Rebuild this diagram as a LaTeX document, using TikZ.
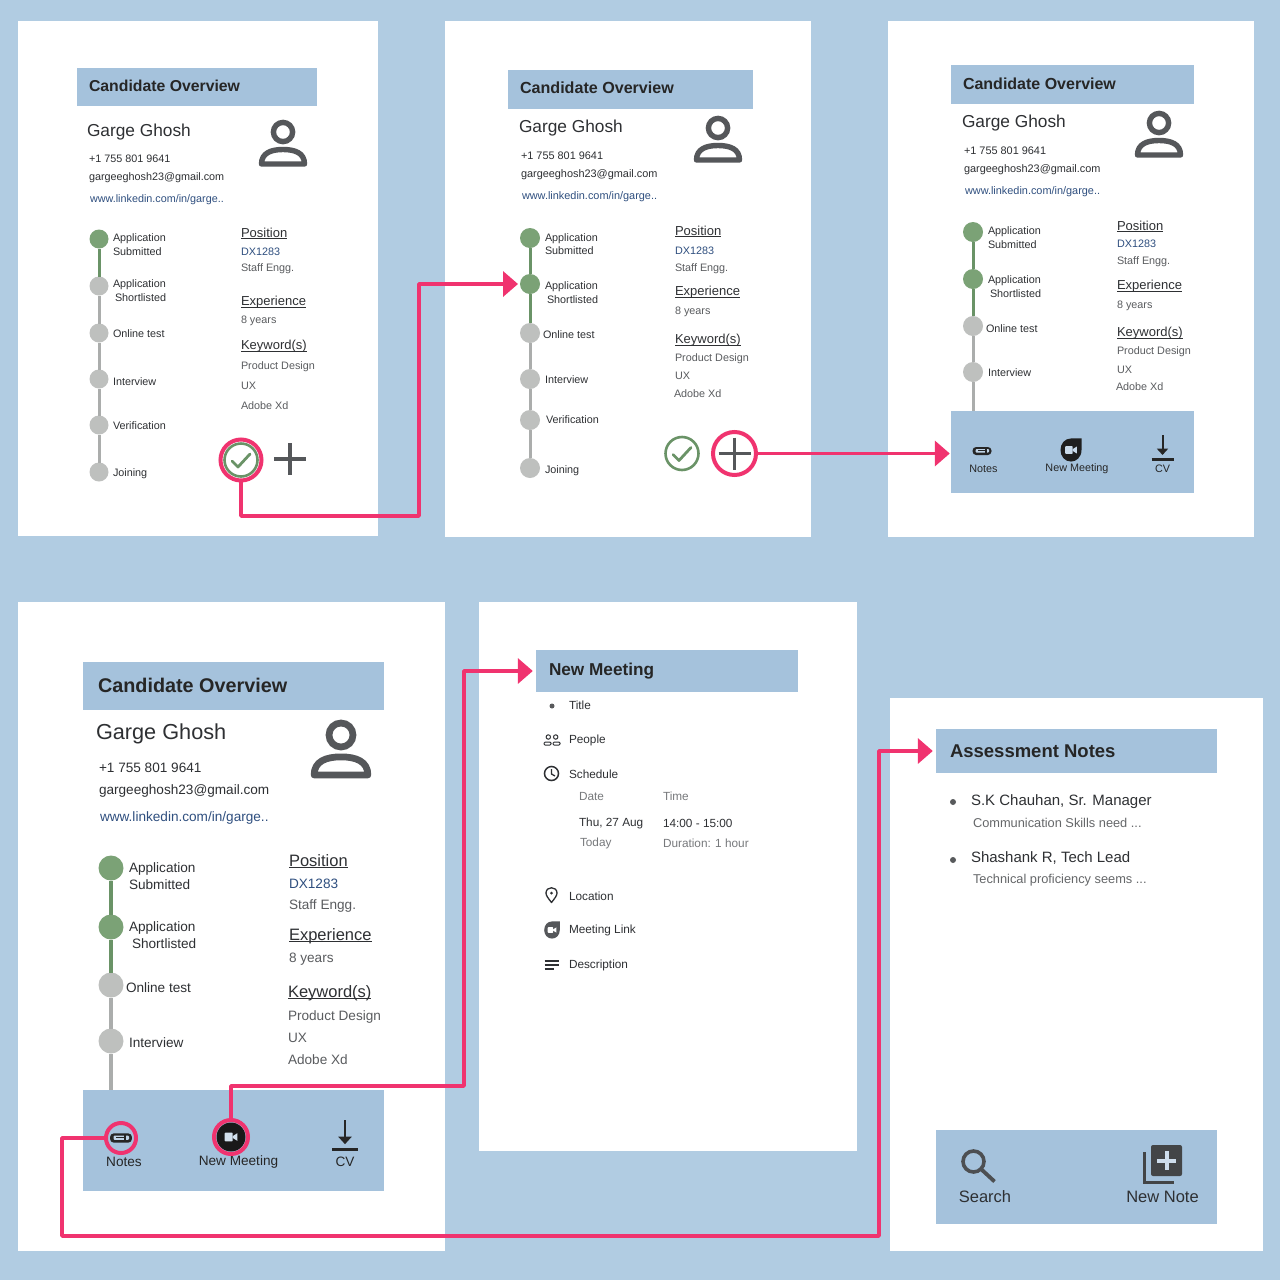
\documentclass[tikz,border=0pt]{standalone}
\usepackage{fontspec}
\setmainfont{Liberation Sans}
\usetikzlibrary{arrows.meta,calc}
\definecolor{bgblue}{HTML}{B1CCE2}
\definecolor{hdrblue}{HTML}{A5C2DC}
\definecolor{pink}{HTML}{F0336F}
\definecolor{tdark}{HTML}{2E3033}
\definecolor{tgray}{HTML}{77797C}
\definecolor{tgrayb}{HTML}{5A5C5F}
\definecolor{tblue}{HTML}{2F4F7F}
\definecolor{dgreen}{HTML}{7BA276}
\definecolor{lgreen}{HTML}{6A9367}
\definecolor{dgray}{HTML}{BEC0BE}
\definecolor{lgray}{HTML}{ABADAC}
\definecolor{icon}{HTML}{55575A}
\newcount\tnum
\newcommand{\fsz}[1]{\fontsize{#1}{#1}\selectfont}
\newcommand{\ulx}[1]{\hbox{\setbox0=\hbox{#1}\rlap{\raisebox{-1.4pt}{\rule{\wd0}{0.7pt}}}\box0}}
\newcommand{\tL}[5]{\global\advance\tnum by 1\node[txt,yshift=-1pt,text=#4,font=\fsz{#3}] (t\the\tnum) at (#1,#2) {#5};}
\newcommand{\tU}[4]{\global\advance\tnum by 1\node[txt,yshift=-1.5pt,text=tdark,font=\fsz{#3}] (t\the\tnum) at (#1,#2) {\ulx{#4}};}
\newcommand{\tB}[4]{\global\advance\tnum by 1\node[txt,text=black!85,font=\fsz{#3}\bfseries] (t\the\tnum) at (#1,#2) {#4};}
\newcommand{\tC}[5]{\global\advance\tnum by 1\node[txt,yshift=-1pt,anchor=center,text=#4,font=\fsz{#3}] (t\the\tnum) at (#1,#2) {#5};}
% person icon: x, y of head, scale
\newcommand{\personicon}[3]{\begin{scope}[shift={(#1,#2)},x=#3pt,y=-#3pt]
 \draw[icon,line width=#3*5.4pt] (0,0) circle (9.6);
 \draw[icon,line width=#3*5.4pt,line join=round] (-21.5,32) -- (21.5,32) .. controls (21.5,21) and (12,17.5) .. (0,17.5) .. controls (-12,17.5) and (-21.5,21) .. (-21.5,32) -- cycle;
\end{scope}}
% check icon
\newcommand{\checkicon}[2]{\draw[lgreen,line width=2.6pt] (#1,#2) circle (16.5);
 \draw[lgreen,line width=2.8pt,line cap=round,line join=round] ($(#1,#2)+(-9,1)$) -- ($(#1,#2)+(-3,7)$) -- ($(#1,#2)+(9,-6)$);}
\newcommand{\plusicon}[2]{\draw[icon,line width=3.6pt] ($(#1,#2)+(-16,0)$) -- ($(#1,#2)+(16,0)$) ($(#1,#2)+(0,-16)$) -- ($(#1,#2)+(0,16)$);}
% camera glyph: x,y,scale,colour
\newcommand{\camicon}[4]{\begin{scope}[shift={(#1,#2)},x=#3pt,y=-#3pt]
 \fill[#4,rounded corners=0.8pt] (-5.5,-3.8) rectangle (1.5,3.8);
 \fill[#4] (1.5,-0.8) -- (5.5,-3.3) -- (5.5,3.3) -- (1.5,0.8) -- cycle;
\end{scope}}
% meet icon: x,y,scale,body colour,camera colour
\newcommand{\meeticon}[5]{\begin{scope}[shift={(#1,#2)},x=#3pt,y=-#3pt]
 \fill[#4] (10,-11) -- (10,0) .. controls (10,7) and (5,11) .. (0,11) .. controls (-6,11) and (-10,6) .. (-10,0) .. controls (-10,-6) and (-6,-11) .. (0,-11) -- cycle;
\end{scope}\camicon{#1}{#2}{#3}{#5}}
% paperclip icon
\newcommand{\clipicon}[3]{\begin{scope}[shift={(#1,#2)},x=#3pt,y=-#3pt]
 \fill[black!85,rounded corners=3.6pt] (-9.5,-4) rectangle (9.5,4);
 \fill[hdrblue!70!white,rounded corners=1pt] (-6.5,-2) rectangle (7,1.6);
 \fill[black!85] (-4,-0.8) rectangle (4,0.3);
 \fill[black!85] (3,-2.2) rectangle (4.5,1.8);
\end{scope}}
% download icon: x, top y, height, half bar
\newcommand{\dlicon}[4]{\draw[black!85,line width=2pt] (#1,#2) -- (#1,#2+#3);
 \fill[black!85] (#1-0.3*#3,#2+0.72*#3) -- (#1+0.3*#3,#2+0.72*#3) -- (#1,#2+1.05*#3) -- cycle;
 \draw[black!85,line width=2.8pt] (#1-#4,#2+1.28*#3) -- (#1+#4,#2+1.28*#3);}
\tikzset{
 txt/.style={anchor=west,inner sep=0pt,outer sep=0pt},
 panel/.style={fill=white,draw=none},
 hdr/.style={fill=hdrblue,draw=none},
 dotg/.style={circle,fill=dgreen,inner sep=0pt,outer sep=0pt},
 dotn/.style={circle,fill=dgray,inner sep=0pt,outer sep=0pt},
 lineg/.style={draw=lgreen,line width=3pt},
 linen/.style={draw=lgray,line width=3pt},
 ring/.style={circle,draw=pink,line width=4pt,inner sep=0pt,outer sep=0pt},
 conn/.style={draw=pink,line width=3.6pt,line join=round,-{Triangle[length=15pt,width=25pt]}},
}
\begin{document}
\begin{tikzpicture}[x=1pt,y=-1pt]
\useasboundingbox (0,0) rectangle (1280,1280);
\fill[bgblue] (0,0) rectangle (1280,1280);
% panels
\path[panel] (18,21) rectangle (378,536);
\path[panel] (445,21) rectangle (811,537);
\path[panel] (888,21) rectangle (1254,537);
\path[panel] (18,602) rectangle (445,1251);
\path[panel] (479,602) rectangle (857,1151);
\path[panel] (890,698) rectangle (1263,1251);
% headers
\path[hdr] (77,68) rectangle (317,106);
\path[hdr] (508,70) rectangle (753,109);
\path[hdr] (951,65) rectangle (1194,104);
\path[hdr] (83,662) rectangle (384,710);
\node[hdr,inner sep=0pt,minimum width=262pt,minimum height=42pt] (hdrE) at (667,671) {};
\node[hdr,inner sep=0pt,minimum width=281pt,minimum height=44pt] (hdrF) at (1076.5,751) {};
% footers
\node[hdr,inner sep=0pt,minimum width=243pt,minimum height=82pt] (footC) at (1072.5,452) {};
\node[hdr,inner sep=0pt,minimum width=301pt,minimum height=101pt] (footD) at (233.5,1140.5) {};
\path[hdr] (936,1130) rectangle (1217,1224);

% ===== card 1
\tB{89}{86}{15.8}{Candidate Overview}
\tL{87}{131}{17.3}{tdark}{Garge Ghosh}
\personicon{283}{132}{1}
\tL{89}{158}{10.8}{tdark}{+1 755 801 9641}
\tL{89}{177}{10.8}{tdark}{gargeeghosh23@gmail.com}
\tL{90}{199}{10.8}{tblue}{www.linkedin.com/in/garge..}
\node[dotg,minimum size=19pt] (a1) at (99,239) {};
\node[dotn,minimum size=19pt] (a2) at (99,286) {};
\node[dotn,minimum size=19pt] (a3) at (99,333) {};
\node[dotn,minimum size=19pt] (a4) at (99,379) {};
\node[dotn,minimum size=19pt] (a5) at (99,425) {};
\node[dotn,minimum size=19pt] (a6) at (99,472) {};
\draw[lineg] (a1)--(a2);
\draw[linen] (a2)--(a3); \draw[linen] (a3)--(a4); \draw[linen] (a4)--(a5); \draw[linen] (a5)--(a6);
\tL{113}{238}{10.8}{tdark}{Application}
\tL{113}{251}{10.8}{tdark}{Submitted}
\tL{113}{284}{10.8}{tdark}{Application}
\tL{115}{297}{10.8}{tdark}{Shortlisted}
\tL{113}{333}{10.8}{tdark}{Online test}
\tL{113}{381}{10.8}{tdark}{Interview}
\tL{113}{425}{10.8}{tdark}{Verification}
\tL{113}{473}{10.8}{tdark}{Joining}
\tU{241}{232}{13}{Position}
\tL{241}{251}{10.8}{tblue}{DX1283}
\tL{241}{268}{10.8}{tgrayb}{Staff Engg.}
\tU{241}{301}{13}{Experience}
\tL{241}{320}{10.8}{tgrayb}{8 years}
\tU{241}{345}{13}{Keyword(s)}
\tL{241}{366}{10.8}{tgrayb}{Product Design}
\tL{241}{385}{10.8}{tgrayb}{UX}
\tL{241}{405}{10.8}{tgrayb}{Adobe Xd}
\checkicon{241}{460}
\plusicon{290}{459}
\node[ring,minimum size=41pt] (ringA) at (241,460) {};

% ===== card 2
\tB{520}{88}{16.1}{Candidate Overview}
\tL{519}{127}{17.3}{tdark}{Garge Ghosh}
\personicon{718}{128}{1}
\tL{521}{155}{10.9}{tdark}{+1 755 801 9641}
\tL{521}{174}{10.9}{tdark}{gargeeghosh23@gmail.com}
\tL{522}{196}{10.9}{tblue}{www.linkedin.com/in/garge..}
\node[dotg,minimum size=20pt] (b1) at (530,238) {};
\node[dotg,minimum size=20pt] (b2) at (530,284) {};
\node[dotn,minimum size=20pt] (b3) at (530,333) {};
\node[dotn,minimum size=20pt] (b4) at (530,379) {};
\node[dotn,minimum size=20pt] (b5) at (530,420) {};
\node[dotn,minimum size=20pt] (b6) at (530,468) {};
\draw[lineg] (b1)--(b2); \draw[lineg] (b2)--(b3);
\draw[linen] (b3)--(b4); \draw[linen] (b4)--(b5); \draw[linen] (b5)--(b6);
\tL{545}{238}{10.8}{tdark}{Application}
\tL{545}{250}{10.8}{tdark}{Submitted}
\tL{545}{286}{10.8}{tdark}{Application}
\tL{547}{299}{10.8}{tdark}{Shortlisted}
\tL{543}{334}{10.8}{tdark}{Online test}
\tL{545}{379}{10.8}{tdark}{Interview}
\tL{546}{419}{10.8}{tdark}{Verification}
\tL{545}{470}{10.8}{tdark}{Joining}
\tU{675}{230}{13}{Position}
\tL{675}{250}{10.8}{tblue}{DX1283}
\tL{675}{268}{10.8}{tgrayb}{Staff Engg.}
\tU{675}{291}{13}{Experience}
\tL{675}{311}{10.8}{tgrayb}{8 years}
\tU{675}{339}{13}{Keyword(s)}
\tL{675}{358}{10.8}{tgrayb}{Product Design}
\tL{675}{375}{10.8}{tgrayb}{UX}
\tL{674}{393}{10.8}{tgrayb}{Adobe Xd}
\checkicon{682}{453.5}
\plusicon{734.5}{453.5}
\node[ring,minimum size=43pt] (ringB) at (734.5,453.5) {};

% ===== card 3
\tB{963}{84}{16}{Candidate Overview}
\tL{962}{122}{17.3}{tdark}{Garge Ghosh}
\personicon{1159}{123}{1}
\tL{964}{150}{10.9}{tdark}{+1 755 801 9641}
\tL{964}{169}{10.9}{tdark}{gargeeghosh23@gmail.com}
\tL{965}{191}{10.9}{tblue}{www.linkedin.com/in/garge..}
\node[dotg,minimum size=20pt] (c1) at (973,232) {};
\node[dotg,minimum size=20pt] (c2) at (973,279) {};
\node[dotn,minimum size=20pt] (c3) at (973,326) {};
\node[dotn,minimum size=20pt] (c4) at (973,372) {};
\draw[lineg] (c1)--(c2); \draw[lineg] (c2)--(c3);
\draw[linen] (c3)--(c4); \draw[linen] (c4)--(c4 |- footC.north);
\tL{988}{231}{10.8}{tdark}{Application}
\tL{988}{244}{10.8}{tdark}{Submitted}
\tL{988}{280}{10.8}{tdark}{Application}
\tL{990}{293}{10.8}{tdark}{Shortlisted}
\tL{986}{328}{10.8}{tdark}{Online test}
\tL{988}{372}{10.8}{tdark}{Interview}
\tU{1117}{225}{13}{Position}
\tL{1117}{243}{10.8}{tblue}{DX1283}
\tL{1117}{261}{10.8}{tgrayb}{Staff Engg.}
\tU{1117}{285}{13}{Experience}
\tL{1117}{305}{10.8}{tgrayb}{8 years}
\tU{1117}{332}{13}{Keyword(s)}
\tL{1117}{351}{10.8}{tgrayb}{Product Design}
\tL{1117}{369}{10.8}{tgrayb}{UX}
\tL{1116}{386}{10.8}{tgrayb}{Adobe Xd}
\clipicon{982}{451}{1}
\meeticon{1071}{450}{1.05}{black!88}{hdrblue!60!white}
\dlicon{1162.5}{435}{19}{11}
\tC{983.5}{468}{10.8}{black!85}{Notes}
\tC{1077}{468}{10.8}{black!85}{New Meeting}
\tC{1162.5}{468}{10.8}{black!85}{CV}

% ===== card 4
\tB{98}{685}{19.8}{Candidate Overview}
\tL{96}{733}{21.7}{tdark}{Garge Ghosh}
\personicon{341}{735}{1.25}
\tL{99}{767}{13.6}{tdark}{+1 755 801 9641}
\tL{99}{790}{13.6}{tdark}{gargeeghosh23@gmail.com}
\tL{100}{817}{13.6}{tblue}{www.linkedin.com/in/garge..}
\node[dotg,minimum size=25pt] (d1) at (111,868) {};
\node[dotg,minimum size=25pt] (d2) at (111,927) {};
\node[dotn,minimum size=25pt] (d3) at (111,985) {};
\node[dotn,minimum size=25pt] (d4) at (111,1041) {};
\draw[lineg,line width=3.4pt] (d1)--(d2); \draw[lineg,line width=3.4pt] (d2)--(d3);
\draw[linen,line width=3.4pt] (d3)--(d4); \draw[linen,line width=3.4pt] (d4)--(d4 |- footD.north);
\tL{129}{868}{13.6}{tdark}{Application}
\tL{129}{884}{13.6}{tdark}{Submitted}
\tL{129}{927}{13.6}{tdark}{Application}
\tL{132}{943}{13.6}{tdark}{Shortlisted}
\tL{126}{987}{13.6}{tdark}{Online test}
\tL{129}{1042}{13.6}{tdark}{Interview}
\tU{289}{860}{16.5}{Position}
\tL{289}{883}{13.6}{tblue}{DX1283}
\tL{289}{905}{13.6}{tgrayb}{Staff Engg.}
\tU{289}{935}{16.5}{Experience}
\tL{289}{958}{13.6}{tgrayb}{8 years}
\tU{288}{992}{16.5}{Keyword(s)}
\tL{288}{1016}{13.6}{tgrayb}{Product Design}
\tL{288}{1037}{13.6}{tgrayb}{UX}
\tL{288}{1059}{13.6}{tgrayb}{Adobe Xd}
\clipicon{121}{1138}{1.15}
\fill[black!90] (231,1137) circle (14.5);
\camicon{231}{1137}{1.15}{hdrblue!50!white}
\dlicon{345}{1120}{23}{13}
\tC{124}{1161}{13.6}{black!85}{Notes}
\tC{238.5}{1161}{13.6}{black!85}{New Meeting}
\tC{345}{1161}{13.6}{black!85}{CV}
\node[ring,minimum size=30pt] (ringN) at (121,1138) {};
\node[ring,minimum size=34pt] (ringV) at (231,1137) {};

% ===== card 5
\tB{549}{671}{17.2}{New Meeting}
\fill[tdark!80] (552,706) circle (2.5);
\tL{569}{704.5}{11.8}{tdark}{Title}
\begin{scope}[shift={(552,740)},line width=1pt,draw=tdark]
 \draw (-3.7,-3) circle (2.2); \draw (3.7,-3) circle (2.2);
 \draw[rounded corners=1pt] (-8,5) -- (-8,2.2) -- (-1,2.2) -- (-1,5) -- cycle;
 \draw[rounded corners=1pt] (1,5) -- (1,2.2) -- (8,2.2) -- (8,5) -- cycle;
\end{scope}
\tL{569}{739}{11.8}{tdark}{People}
\draw[tdark,line width=1.5pt] (551.5,773.5) circle (7);
\draw[tdark,line width=1.3pt] (551.5,769) -- (551.5,774) -- (555,776);
\tL{569}{773.5}{11.8}{tdark}{Schedule}
\tL{579}{795.5}{11.8}{tgray}{Date}
\tL{663}{795.5}{11.8}{tgray}{Time}
\tL{579}{822.5}{11.8}{tdark}{Thu, 27 Aug}
\tL{663}{822.5}{11.8}{tdark}{14:00 - 15:00}
\tL{580}{842.5}{11.8}{tgray}{Today}
\tL{663}{842.5}{11.8}{tgray}{Duration: 1 hour}
\draw[tdark,line width=1.3pt,line join=round] (551.5,902.5) .. controls (548,898) and (546,895.5) .. (546,893) .. controls (546,886) and (557,886) .. (557,893) .. controls (557,895.5) and (555,898) .. (551.5,902.5) -- cycle;
\fill[tdark] (551.5,893) circle (1.5);
\tL{569}{895.5}{11.8}{tdark}{Location}
\meeticon{552}{930}{0.78}{icon}{white}
\tL{569}{929.5}{11.8}{tdark}{Meeting Link}
\draw[tdark,line width=1.2pt] (544.5,961) -- (559,961) (544.5,965) -- (559,965) (544.5,969) -- (554,969);
\tL{569}{964}{11.8}{tdark}{Description}

% ===== card 6
\tB{950}{751}{18.5}{Assessment Notes}
\fill[tdark!80] (953,802) circle (3);
\tL{971}{800.5}{15}{tdark}{S.K Chauhan, Sr. Manager}
\tL{973}{821.5}{12.8}{tgray!85!black}{Communication Skills need ...}
\fill[tdark!80] (953,860) circle (3);
\tL{971}{857.5}{15}{tdark}{Shashank R, Tech Lead}
\tL{973}{879.5}{12.8}{tgray!85!black}{Technical proficiency seems ...}
\draw[tdark!85,line width=3.6pt] (973.5,1161.5) circle (10.5);
\draw[tdark!85,line width=3.8pt] (981,1169) -- (994.5,1181.5);
\tC{985}{1196}{16.5}{tdark}{Search}
\fill[tdark!90,rounded corners=2pt] (1151,1145) rectangle (1182,1176);
\draw[hdrblue!55!white,line width=4pt] (1166.5,1151) -- (1166.5,1170) (1157,1160.5) -- (1176,1160.5);
\draw[tdark!90,line width=3.2pt] (1144.5,1152) -- (1144.5,1182.5) -- (1174,1182.5);
\tC{1162.5}{1196}{16.5}{tdark}{New Note}

% ===== connectors
\coordinate (bendA) at (419,516);
\coordinate (bendE) at (464,1086);
\coordinate (bendF1) at (62,1236);
\coordinate (bendF2) at (879,1236);
\draw[conn,shorten >=2pt] (ringA.south) |- (bendA) |- (b2.west);
\draw[conn,shorten >=1pt] (ringB.east) -- (ringB -| footC.west);
\draw[conn,shorten >=3pt] (ringV.north) |- (bendE) |- (hdrE.west);
\draw[conn,shorten >=3pt] (ringN.west) -| (bendF1) -- (bendF2) |- (hdrF.west);
\end{tikzpicture}
\end{document}
